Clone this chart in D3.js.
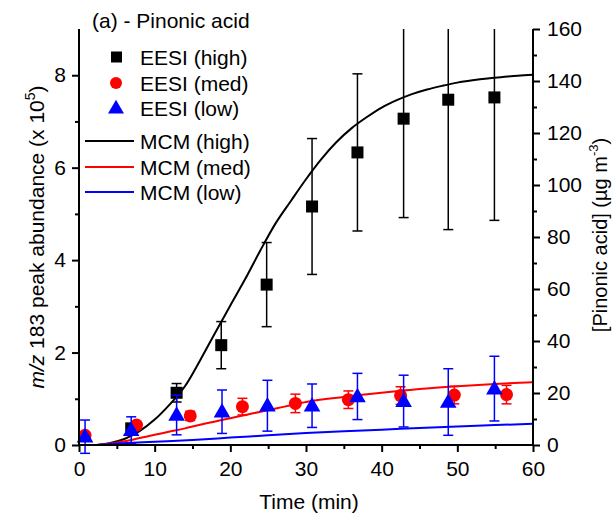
<!DOCTYPE html>
<html><head><meta charset="utf-8">
<script src="https://cdn.jsdelivr.net/npm/d3@7/dist/d3.min.js"></script>
<style>body{margin:0;background:#fff}svg{font-family:"Liberation Sans",Arial,sans-serif}</style>
</head><body>
<svg id="c" width="615" height="515"></svg>
<script>
// EESI data: time (min), value (x1e5), error
const highT = [6.9, 12.9, 18.8, 24.8, 30.8, 36.8, 42.9, 48.8, 54.9];
const highV = [0.36, 1.13, 2.16, 3.47, 5.16, 6.33, 7.06, 7.47, 7.52];
const highE = [0.06, 0.2, 0.51, 0.91, 1.47, 1.7, 2.14, 2.81, 2.66];
const medT = [0.8, 7.6, 14.7, 21.6, 28.6, 35.6, 42.5, 49.6, 56.5];
const medV = [0.21, 0.43, 0.63, 0.83, 0.9, 0.98, 1.07, 1.08, 1.09];
const medE = [0.07, 0.08, 0.1, 0.18, 0.2, 0.19, 0.19, 0.19, 0.2];
const lowT = [0.8, 6.9, 12.9, 18.9, 24.9, 30.8, 36.8, 42.9, 48.8, 54.9];
const lowV = [0.18, 0.32, 0.65, 0.72, 0.85, 0.85, 1.05, 0.95, 0.93, 1.22];
const lowE = [0.36, 0.29, 0.43, 0.47, 0.55, 0.47, 0.5, 0.56, 0.72, 0.7];
// MCM model curves (x1e5)
const mcmHighT = [0, 2, 4, 6, 8, 10, 12, 14, 16, 18, 20, 22, 24, 26, 28, 30, 32, 34, 36, 38, 40, 42, 44, 46, 48, 50, 52, 54, 56, 58, 60];
const mcmHighV = [0, 0, 0.04, 0.13, 0.3, 0.55, 0.88, 1.27, 1.83, 2.43, 3.02, 3.6, 4.22, 4.8, 5.28, 5.75, 6.18, 6.55, 6.85, 7.09, 7.3, 7.46, 7.59, 7.69, 7.77, 7.84, 7.89, 7.93, 7.96, 7.99, 8.01];
const mcmMedT = [0, 2, 4, 6, 8, 10, 12, 14, 16, 18, 20, 22, 24, 26, 28, 30, 35, 40, 45, 50, 55, 60];
const mcmMedV = [0, 0, 0.03, 0.08, 0.15, 0.22, 0.29, 0.36, 0.44, 0.51, 0.58, 0.65, 0.72, 0.79, 0.86, 0.93, 1.04, 1.13, 1.21, 1.27, 1.32, 1.36];
const mcmLowT = [0, 2, 5, 10, 15, 20, 25, 30, 35, 40, 45, 50, 55, 60];
const mcmLowV = [0, 0, 0.03, 0.07, 0.11, 0.16, 0.21, 0.26, 0.3, 0.33, 0.37, 0.4, 0.43, 0.46];
const leftTicks = [0, 2, 4, 6, 8];
const rightTicks = [0, 20, 40, 60, 80, 100, 120, 140, 160];
const xTicks = [0, 10, 20, 30, 40, 50, 60];

const FONT = "Liberation Sans, Arial, sans-serif";
const svg = d3.select("#c");
const x = d3.scaleLinear().domain([0, 60]).range([79, 533]);
const yL = d3.scaleLinear().domain([0, 9]).range([445, 29]);
const yR = d3.scaleLinear().domain([0, 160]).range([445, 29]);

svg.append("clipPath").attr("id", "clip").append("rect")
  .attr("x", 60).attr("y", 29).attr("width", 500).attr("height", 440);
const plot = svg.append("g").attr("clip-path", "url(#clip)");

const line = d3.line().x(d => x(d[0])).y(d => yL(d[1])).curve(d3.curveMonotoneX);

function errBars(T, V, E, col) {
  const g = plot.append("g").attr("stroke", col).attr("stroke-width", 1.5).attr("fill", "none");
  T.forEach((t, i) => {
    const cx = x(t), top = yL(V[i] + E[i]), bot = yL(V[i] - E[i]);
    g.append("line").attr("x1", cx).attr("x2", cx).attr("y1", top).attr("y2", bot);
    g.append("line").attr("x1", cx - 5).attr("x2", cx + 5).attr("y1", top).attr("y2", top);
    g.append("line").attr("x1", cx - 5).attr("x2", cx + 5).attr("y1", bot).attr("y2", bot);
  });
}
errBars(highT, highV, highE, "#000");
plot.append("g").selectAll("rect").data(highT).join("rect")
  .attr("x", (d) => x(d) - 6).attr("y", (d, i) => yL(highV[i]) - 6)
  .attr("width", 12).attr("height", 12).attr("fill", "#000");

plot.append("path").datum(mcmHighT.map((t, i) => [t, mcmHighV[i]])).attr("d", line)
  .attr("fill", "none").attr("stroke", "#000").attr("stroke-width", 2);
plot.append("path").datum(mcmMedT.map((t, i) => [t, mcmMedV[i]])).attr("d", line)
  .attr("fill", "none").attr("stroke", "#ff0000").attr("stroke-width", 2);
plot.append("path").datum(mcmLowT.map((t, i) => [t, mcmLowV[i]])).attr("d", line)
  .attr("fill", "none").attr("stroke", "#0000ff").attr("stroke-width", 2);

errBars(medT, medV, medE, "#ff0000");
plot.append("g").selectAll("circle").data(medT).join("circle")
  .attr("cx", d => x(d)).attr("cy", (d, i) => yL(medV[i])).attr("r", 6.5).attr("fill", "#ff0000");

errBars(lowT, lowV, lowE, "#0000ff");
const tri = d3.symbol().type(d3.symbolTriangle).size(120);
plot.append("g").selectAll("path").data(lowT).join("path")
  .attr("transform", (d, i) => `translate(${x(d)},${yL(lowV[i]) + 1})`)
  .attr("d", tri).attr("fill", "#0000ff");

// axes
svg.append("g").attr("transform", "translate(0,445)")
  .call(d3.axisBottom(x).tickValues(xTicks).tickSize(7).tickPadding(9));
svg.append("g").attr("transform", "translate(0,445)")
  .call(d3.axisBottom(x).tickValues([5, 15, 25, 35, 45, 55]).tickSize(4).tickFormat(""));
svg.append("g").attr("transform", "translate(79,0)")
  .call(d3.axisLeft(yL).tickValues(leftTicks).tickSize(7).tickPadding(6));
svg.append("g").attr("transform", "translate(79,0)")
  .call(d3.axisLeft(yL).tickValues([1, 3, 5, 7]).tickSize(4).tickFormat(""));
svg.append("g").attr("transform", "translate(533,0)")
  .call(d3.axisRight(yR).tickValues(rightTicks).tickSize(7).tickPadding(7));
svg.append("g").attr("transform", "translate(533,0)")
  .call(d3.axisRight(yR).tickValues([10, 30, 50, 70, 90, 110, 130, 150]).tickSize(4).tickFormat(""));
svg.selectAll(".domain").remove();
svg.selectAll(".tick line").attr("stroke-width", 2);
svg.selectAll(".tick text").attr("font-size", "21px").attr("font-family", FONT).attr("fill", "#000");

svg.append("line").attr("x1", 78).attr("x2", 534).attr("y1", 445).attr("y2", 445).attr("stroke", "#000").attr("stroke-width", 2);
svg.append("line").attr("x1", 79).attr("x2", 79).attr("y1", 29).attr("y2", 446).attr("stroke", "#000").attr("stroke-width", 2);
svg.append("line").attr("x1", 533).attr("x2", 533).attr("y1", 29).attr("y2", 446).attr("stroke", "#000").attr("stroke-width", 2);

// titles
const T = svg.append("g").attr("font-family", FONT).attr("fill", "#000").attr("font-size", "21px");
T.append("text").attr("x", 92).attr("y", 28).text("(a) - Pinonic acid");
T.append("text").attr("x", 309).attr("y", 509).attr("text-anchor", "middle").text("Time (min)");
const yl = T.append("text").attr("transform", "translate(44,237) rotate(-90)").attr("text-anchor", "middle");
yl.append("tspan").attr("font-style", "italic").text("m/z");
yl.append("tspan").text(" 183 peak abundance (x 10");
yl.append("tspan").attr("font-size", "14px").attr("dy", "-9").text("5");
yl.append("tspan").attr("dy", "9").text(")");
const yr = T.append("text").attr("transform", "translate(607,235) rotate(-90)").attr("text-anchor", "middle").attr("font-size", "20px");
yr.append("tspan").text("[Pinonic acid] (µg m");
yr.append("tspan").attr("font-size", "13px").attr("dy", "-9").text("-3");
yr.append("tspan").attr("dy", "9").text(")");

// legend
const L = svg.append("g").attr("font-family", FONT).attr("font-size", "21px");
const rows = [
  {t: "EESI (high)", k: "sq", c: "#000"},
  {t: "EESI (med)", k: "ci", c: "#ff0000"},
  {t: "EESI (low)", k: "tr", c: "#0000ff"},
  {t: "MCM (high)", k: "ln", c: "#000"},
  {t: "MCM (med)", k: "ln", c: "#ff0000"},
  {t: "MCM (low)", k: "ln", c: "#0000ff"}
];
const rowY = [57, 83, 108, 141, 167, 192];
rows.forEach((r, i) => {
  const yy = rowY[i];
  if (r.k === "sq") L.append("rect").attr("x", 111).attr("y", yy - 5.5).attr("width", 11).attr("height", 11).attr("fill", r.c);
  if (r.k === "ci") L.append("circle").attr("cx", 116).attr("cy", yy).attr("r", 6).attr("fill", r.c);
  if (r.k === "tr") L.append("path").attr("d", d3.symbol().type(d3.symbolTriangle).size(110)()).attr("transform", `translate(116,${yy + 1})`).attr("fill", r.c);
  if (r.k === "ln") L.append("line").attr("x1", 85).attr("x2", 134).attr("y1", yy).attr("y2", yy).attr("stroke", r.c).attr("stroke-width", 2);
  L.append("text").attr("x", 140).attr("y", yy + 7.5).attr("fill", "#000").text(r.t);
});
</script>
</body></html>
